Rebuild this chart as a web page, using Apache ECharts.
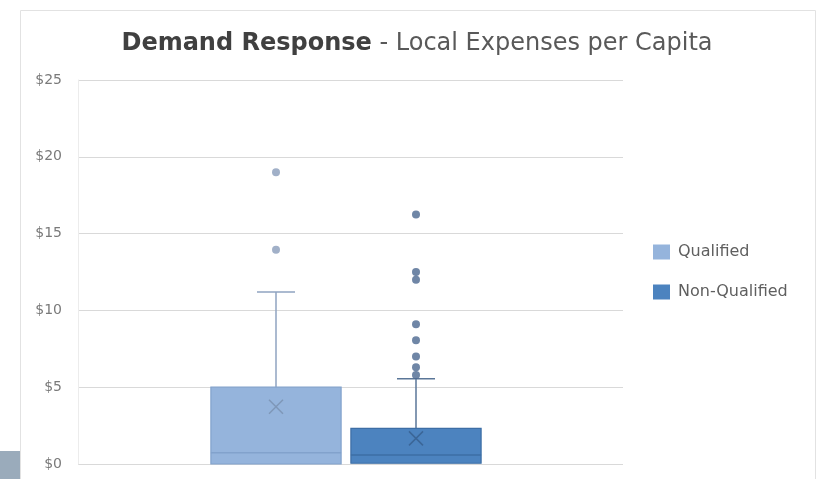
<!DOCTYPE html>
<html>
<head>
<meta charset="utf-8">
<script src="https://cdn.jsdelivr.net/npm/echarts@6/dist/echarts.min.js"></script>
<style>
	html, body { margin: 0; padding: 0; background: #fff; }
	#chart { width: 817px; height: 479px; }
</style>
</head>
<body>
<div id="chart"></div>
<script>
// data
var categories = [ 'Qualified', 'Non-Qualified' ];
var boxMin = [ 0, 0.05 ];
var boxQ1 = [ 0, 0.05 ];
var boxMedian = [ 0.74, 0.59 ];
var boxQ3 = [ 5.0, 2.32 ];
var boxMax = [ 11.2, 5.55 ];
var boxMean = [ 3.73, 1.67 ];
var outliersQualified = [ 19.0, 13.95 ];
var outliersNonQualified = [ 16.25, 12.5, 12.0, 9.1, 8.05, 7.0, 6.3, 5.8 ];
var yTicks = [ 0, 5, 10, 15, 20, 25 ];

// colours per category
var boxFill = [ '#95b4dc', '#4c83bf' ];
var boxLine = [ '#82a2cc', '#3d6ea5' ];
var whiskerColor = [ '#8fa3c0', '#5a7698' ];
var dotColor = [ '#8a9cba', '#4b6890' ];
var meanColor = [ '#7f97b8', '#3b6698' ];

var chart = echarts.init(document.getElementById('chart'));

// box + whisker + mean drawn per category
var renderBox = function(params, api) {
	var idx = api.value(0);
	var bandW = api.size([ 1, 0 ])[0];
	var halfBox = bandW * 0.465;
	var halfCap = 19;
	var top = api.coord([ idx, api.value(4) ]);
	var bottom = api.coord([ idx, api.value(2) ]);
	var med = api.coord([ idx, api.value(3) ]);
	var hi = api.coord([ idx, api.value(5) ]);
	var lo = api.coord([ idx, api.value(1) ]);
	var mean = api.coord([ idx, api.value(6) ]);
	var cx = top[0];
	var k = idx;
	var children = [ {
		type : 'line',
		shape : { x1 : cx, y1 : hi[1], x2 : cx, y2 : top[1] },
		style : { stroke : whiskerColor[k], lineWidth : 1.5 }
	}, {
		type : 'line',
		shape : { x1 : cx - halfCap, y1 : hi[1], x2 : cx + halfCap, y2 : hi[1] },
		style : { stroke : whiskerColor[k], lineWidth : 1.5 }
	}, {
		type : 'line',
		shape : { x1 : cx, y1 : lo[1], x2 : cx, y2 : bottom[1] },
		style : { stroke : whiskerColor[k], lineWidth : 1.5 }
	}, {
		type : 'rect',
		shape : { x : cx - halfBox, y : top[1], width : halfBox * 2, height : bottom[1] - top[1] },
		style : { fill : boxFill[k], stroke : boxLine[k], lineWidth : 1.2 }
	}, {
		type : 'line',
		shape : { x1 : cx - halfBox, y1 : med[1], x2 : cx + halfBox, y2 : med[1] },
		style : { stroke : boxLine[k], lineWidth : 1.5 }
	}, {
		type : 'line',
		shape : { x1 : cx - 7, y1 : mean[1] - 7, x2 : cx + 7, y2 : mean[1] + 7 },
		style : { stroke : meanColor[k], lineWidth : 1.5 }
	}, {
		type : 'line',
		shape : { x1 : cx + 7, y1 : mean[1] - 7, x2 : cx - 7, y2 : mean[1] + 7 },
		style : { stroke : meanColor[k], lineWidth : 1.5 }
	} ];
	return { type : 'group', children : children };
};

var boxSeries = categories.map(function(name, i) {
	return {
		name : name,
		type : 'custom',
		xAxisIndex : 1,
		yAxisIndex : 1,
		itemStyle : { color : boxFill[i], borderColor : boxLine[i], borderWidth : 1 },
		renderItem : renderBox,
		encode : { x : 0, y : [ 1, 2, 3, 4, 5, 6 ] },
		data : [ [ i, boxMin[i], boxQ1[i], boxMedian[i], boxQ3[i], boxMax[i], boxMean[i] ] ],
		z : 3
	};
});

var outlierLists = [ outliersQualified, outliersNonQualified ];
var dotSeries = outlierLists.map(function(list, i) {
	return {
		name : categories[i] + ' outliers',
		type : 'scatter',
		xAxisIndex : 1,
		yAxisIndex : 1,
		symbolSize : 8,
		itemStyle : { color : dotColor[i] },
		data : list.map(function(v) {
			return [ i, v ];
		}),
		z : 4
	};
});

chart.setOption({
	animation : false,
	backgroundColor : '#ffffff',
	graphic : [ {
		type : 'rect',
		shape : { x : 20.5, y : 10.5, width : 795, height : 480 },
		style : { fill : 'none', stroke : '#e2e2e2', lineWidth : 1 },
		z : -1
	}, {
		type : 'rect',
		shape : { x : 0, y : 451, width : 20, height : 28 },
		style : { fill : '#9aabbb' },
		z : -1
	} ],
	title : {
		text : '{b|Demand Response}{n| - Local Expenses per Capita}',
		left : 412,
		top : 27,
		textAlign : 'center',
		textStyle : {
			rich : {
				b : { fontFamily : 'DejaVu Sans', fontSize : 24, fontWeight : 'bold', color : '#404040' },
				n : { fontFamily : 'DejaVu Sans', fontSize : 24, fontWeight : 'normal', color : '#595959' }
			}
		}
	},
	legend : {
		data : categories,
		orient : 'vertical',
		left : 653,
		top : 244,
		padding : 0,
		icon : 'rect',
		itemWidth : 17,
		itemHeight : 15,
		itemGap : 24,
		itemStyle : { borderWidth : 0 },
		textStyle : {
			fontFamily : 'DejaVu Sans',
			fontSize : 16,
			lineHeight : 16,
			color : '#5f5f5f',
			padding : [ 0, 0, 0, 3 ]
		}
	},
	grid : [ {
		left : 78,
		right : 194,
		top : 80,
		bottom : 15
	}, {
		left : 206,
		width : 280,
		top : 80,
		bottom : 15
	} ],
	xAxis : [ {
		type : 'category',
		gridIndex : 0,
		data : [ '' ],
		axisLine : { show : false },
		axisTick : { show : false },
		axisLabel : { show : false }
	}, {
		type : 'category',
		gridIndex : 1,
		data : categories,
		show : false
	} ],
	yAxis : [ {
		type : 'value',
		gridIndex : 0,
		min : yTicks[0],
		max : yTicks[yTicks.length - 1],
		interval : 5,
		axisLine : { show : true, lineStyle : { color : '#ececec', width : 1 } },
		axisTick : { show : false },
		axisLabel : {
			margin : 16,
			fontFamily : 'DejaVu Sans',
			fontSize : 14,
			color : '#7a7a7a',
			formatter : function(v) {
				return '$' + v;
			}
		},
		splitLine : { lineStyle : { color : '#d9d9d9', width : 1.2 } }
	}, {
		type : 'value',
		gridIndex : 1,
		min : yTicks[0],
		max : yTicks[yTicks.length - 1],
		interval : 5,
		show : false,
		splitLine : { show : false }
	} ],
	series : boxSeries.concat(dotSeries)
});
</script>
</body>
</html>
